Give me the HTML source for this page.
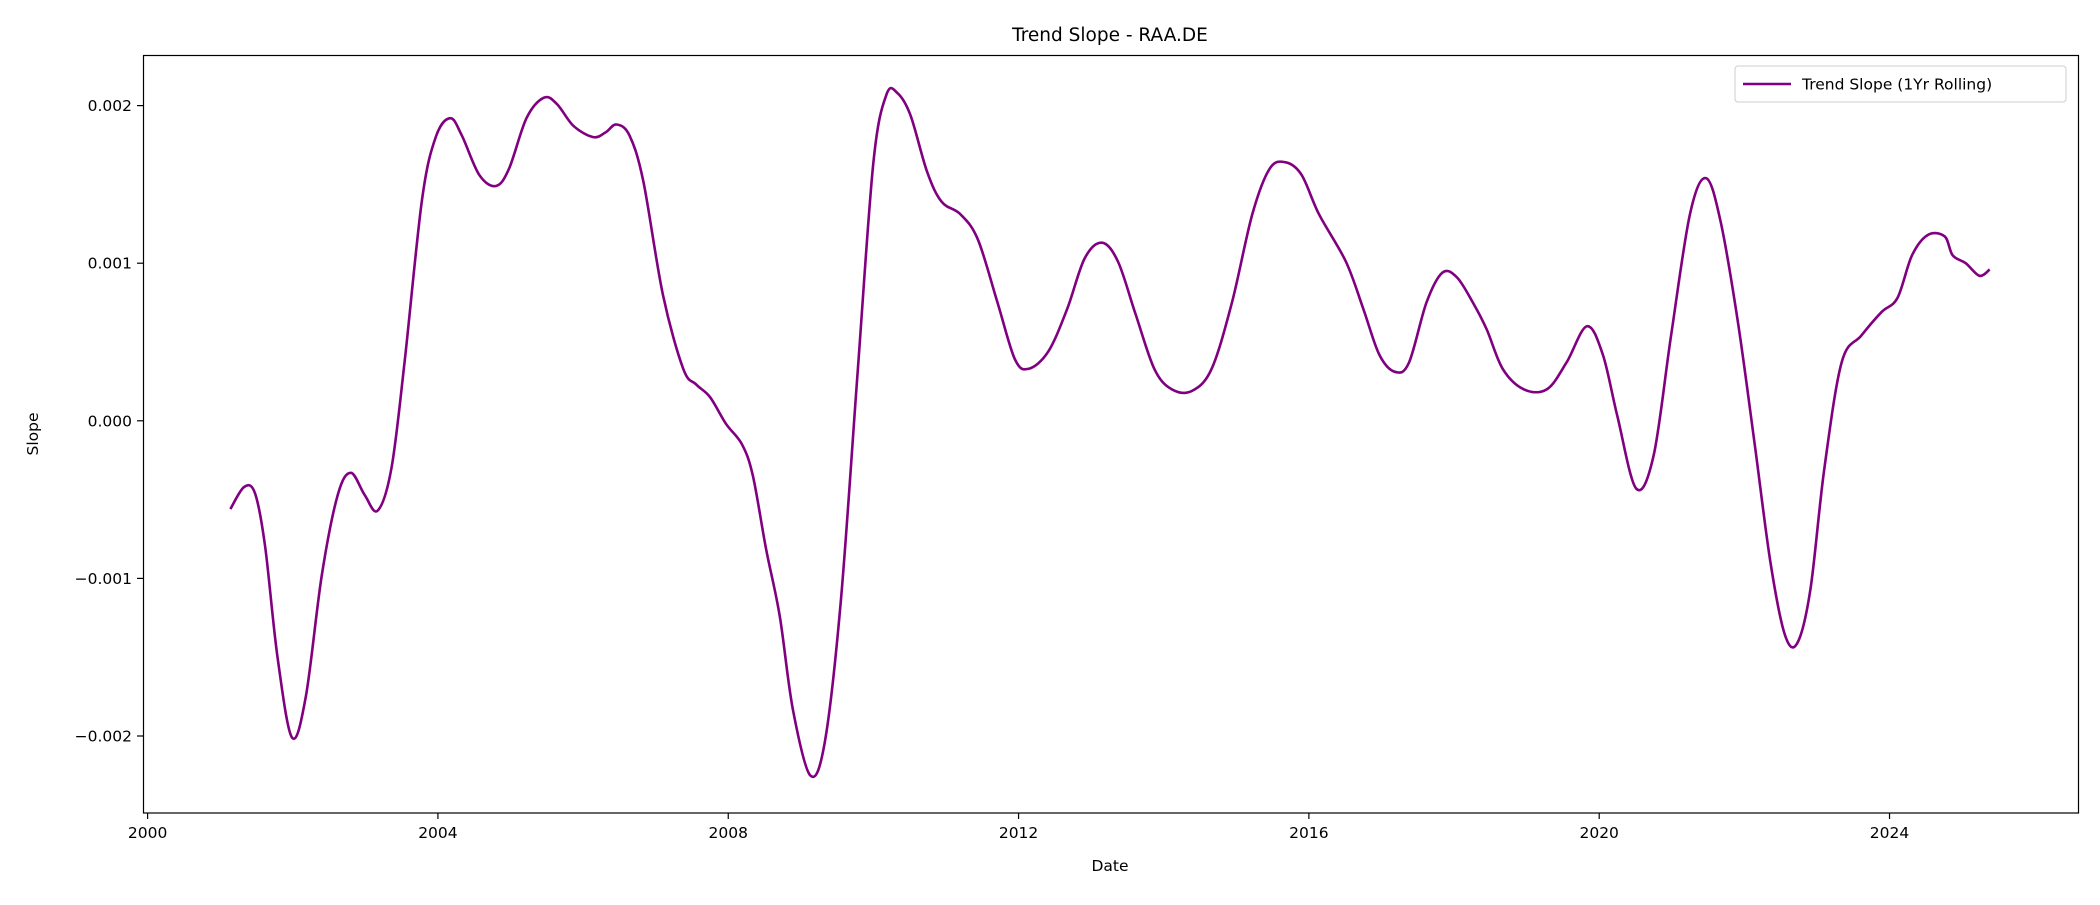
<!DOCTYPE html>
<html><head><meta charset="utf-8"><style>
body{margin:0;background:#fff}
svg text{font-family:"DejaVu Sans","Liberation Sans",sans-serif;fill:#000}
</style></head><body>
<svg id="chart" width="2100" height="900" viewBox="0 0 2100 900" xmlns="http://www.w3.org/2000/svg">
<rect width="2100" height="900" fill="#fff"/>
<text x="1110" y="41" font-size="18.5" text-anchor="middle">Trend Slope - RAA.DE</text>
<g id="ticks"></g>
<path id="series" fill="none" stroke="#800080" stroke-width="2.6" stroke-linejoin="round"/>
<rect x="143.5" y="55.5" width="1935" height="757.5" fill="none" stroke="#000" stroke-width="1.2"/>
<text x="0" y="0" font-size="15.5" text-anchor="middle" transform="translate(38,434) rotate(-90)">Slope</text>
<text x="1110" y="871" font-size="15.5" text-anchor="middle">Date</text>
<g>
<rect x="1735" y="66" width="331" height="36" rx="3" fill="#fff" stroke="#ccc" stroke-width="1"/>
<line x1="1743" y1="84" x2="1791" y2="84" stroke="#800080" stroke-width="2.6"/>
<text x="1802" y="89.5" font-size="15.5">Trend Slope (1Yr Rolling)</text>
</g>
</svg>
<script>
const years=[2001.14,2001.33,2001.48,2001.62,2001.79,2001.99,2002.18,2002.40,2002.62,2002.80,2002.99,2003.17,2003.36,2003.54,2003.78,2003.97,2004.17,2004.33,2004.57,2004.80,2004.98,2005.22,2005.46,2005.64,2005.87,2006.14,2006.31,2006.46,2006.64,2006.83,2007.10,2007.38,2007.56,2007.75,2007.97,2008.19,2008.34,2008.52,2008.71,2008.89,2009.13,2009.33,2009.55,2009.78,2010.00,2010.18,2010.33,2010.51,2010.74,2010.94,2011.20,2011.44,2011.71,2011.95,2012.14,2012.41,2012.67,2012.91,2013.15,2013.37,2013.61,2013.87,2014.11,2014.39,2014.66,2014.94,2015.22,2015.46,2015.68,2015.90,2016.14,2016.51,2016.75,2016.97,2017.19,2017.38,2017.62,2017.84,2018.04,2018.26,2018.45,2018.67,2018.96,2019.28,2019.55,2019.83,2020.05,2020.25,2020.51,2020.75,2020.99,2021.25,2021.47,2021.67,2021.91,2022.14,2022.36,2022.56,2022.73,2022.91,2023.10,2023.34,2023.61,2023.89,2024.11,2024.31,2024.53,2024.76,2024.87,2025.05,2025.24,2025.38];
const slopes=[-0.00056,-0.00042,-0.00046,-0.0008,-0.0015,-0.00201,-0.00175,-0.00098,-0.00047,-0.00033,-0.00047,-0.00057,-0.0003,0.00037,0.0014,0.0018,0.00192,0.00181,0.00156,0.00149,0.0016,0.00192,0.00205,0.00201,0.00187,0.0018,0.00183,0.00188,0.00181,0.00152,0.0008,0.00033,0.00023,0.00015,-0.00002,-0.00015,-0.00035,-0.00081,-0.00124,-0.00183,-0.00225,-0.00204,-0.00115,0.00029,0.00164,0.00207,0.00208,0.00194,0.00158,0.00139,0.00131,0.00115,0.00075,0.00039,0.00033,0.00044,0.00071,0.00103,0.00113,0.00101,0.00068,0.00033,0.0002,0.00019,0.00033,0.00075,0.00131,0.0016,0.00164,0.00156,0.00131,0.00101,0.00071,0.00042,0.00031,0.00037,0.00075,0.00094,0.00091,0.00075,0.00058,0.00033,0.0002,0.0002,0.00037,0.0006,0.00042,0.00003,-0.00043,-0.00022,0.00054,0.00131,0.00154,0.00127,0.00063,-0.00014,-0.0009,-0.00136,-0.00141,-0.00107,-0.00031,0.00037,0.00054,0.00069,0.00078,0.00105,0.00118,0.00117,0.00105,0.001,0.00092,0.00096];
const xTicks=[2000,2004,2008,2012,2016,2020,2024];
const yTicks=[-0.002,-0.001,0,0.001,0.002];
const yTickLabels=["\u22120.002","\u22120.001","0.000","0.001","0.002"];
const X=y=>147.6+(y-2000)*72.58;
const Y=v=>420.8-v*157.6e3;
const NS="http://www.w3.org/2000/svg";
const g=document.getElementById('ticks');
function mk(t,a){const e=document.createElementNS(NS,t);for(const k in a)e.setAttribute(k,a[k]);g.appendChild(e);return e;}
xTicks.forEach(t=>{
  const l=mk('line',{x1:X(t),x2:X(t),y1:813,y2:819,stroke:'#000','stroke-width':1.2});
  
  
  const tx=mk('text',{x:X(t),y:838,'font-size':15.5,'text-anchor':'middle'});tx.textContent=t;
  
  
});
yTicks.forEach((t,i)=>{
  const l=mk('line',{x1:137,x2:143,y1:Y(t),y2:Y(t),stroke:'#000','stroke-width':1.2});
  
  
  const tx=mk('text',{x:132,y:Y(t)+5.5,'font-size':15.5,'text-anchor':'end'});tx.textContent=yTickLabels[i];
  
  
});
const P=years.map((y,i)=>[X(y),Y(slopes[i])]);
let d='M'+P[0][0]+','+P[0][1];
for(let i=0;i<P.length-1;i++){
  const p0=P[Math.max(0,i-1)],p1=P[i],p2=P[i+1],p3=P[Math.min(P.length-1,i+2)];
  const c1=[p1[0]+(p2[0]-p0[0])/6,p1[1]+(p2[1]-p0[1])/6];
  const c2=[p2[0]-(p3[0]-p1[0])/6,p2[1]-(p3[1]-p1[1])/6];
  d+=`C${c1[0]},${c1[1]} ${c2[0]},${c2[1]} ${p2[0]},${p2[1]}`;
}
document.getElementById('series').setAttribute('d',d);
</script>
</body></html>
